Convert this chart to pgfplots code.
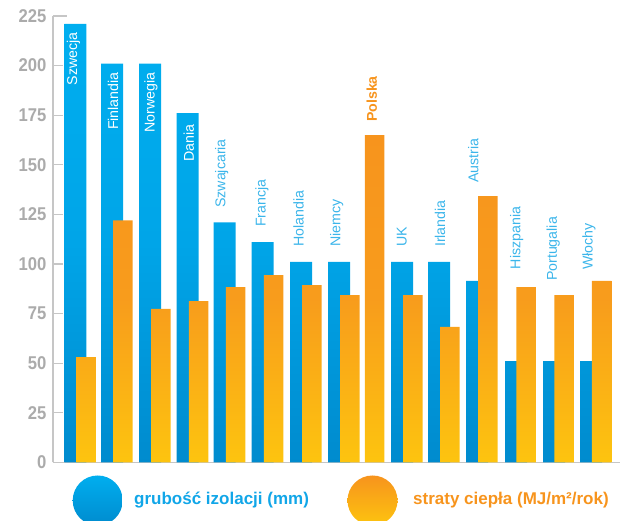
\documentclass[border=0pt]{standalone}
\usepackage{fontspec}
\setmainfont{Liberation Sans}
\newfontfamily\ticksfont[FakeStretch=0.9]{Liberation Sans}
\usepackage{pgfplots}
\usepackage{pgfplotstable}
\pgfplotsset{compat=1.18}
\definecolor{bluetop}{HTML}{00AEEF}
\definecolor{bluemid}{HTML}{00A5E8}
\definecolor{bluebot}{HTML}{008BCE}
\definecolor{orgtop}{HTML}{F7941D}
\definecolor{orgmid}{HTML}{F89C1C}
\definecolor{orgbot}{HTML}{FDC40F}
\definecolor{lblblue}{HTML}{3BB5EA}
\definecolor{axgray}{HTML}{C6C6C6}
\definecolor{tickgray}{HTML}{ABABAB}
\definecolor{legblue}{HTML}{11A6E8}

% blue: grubosc izolacji (mm); x = bar centre position
\pgfplotstableread{
x y
75.3 221
112 201
150 201
187.7 176
224.7 121
262.7 111
301 101
339 101
402 101
439 101
477 91.4
516 51
554 51
591 51
}\bluedata

% orange: straty ciepla (MJ/m2/rok)
\pgfplotstableread{
x y
86.1 53
122.8 122
160.8 77.3
198.5 81.3
235.5 88.3
273.5 94.4
311.8 89.3
349.8 84.3
374.5 165
412.8 84.3
449.8 68.3
487.8 134.2
526 88.3
564 84.3
601.5 91.4
}\orangedata

\begin{document}
\begin{tikzpicture}
\begin{axis}[
  scale only axis, width=567pt, height=446.3pt,
  xmin=53, xmax=620, ymin=0, ymax=225,
  axis x line*=bottom, axis y line*=left,
  axis line style={draw=axgray, line width=1.2pt},
  xtick=\empty,
  ytick={0,25,...,200},
  extra y ticks={225},
  extra y tick style={major tick length=14pt},
  tick align=inside,
  major tick length=10pt,
  tick style={draw=axgray, line width=1.2pt},
  /pgf/number format/assume math mode=true,
  yticklabel style={font=\ticksfont\bfseries\fontsize{18.5pt}{20pt}\selectfont, text=tickgray, xshift=-3pt},
  clip=false,
]
\addplot[ybar, bar width=22, bar shift=0pt, draw=none,
  top color=bluetop, bottom color=bluebot, middle color=bluemid] table[x=x,y=y]{\bluedata};
\addplot[ybar, bar width=19.5, bar shift=0pt, draw=none,
  top color=orgtop, bottom color=orgbot, middle color=orgmid] table[x=x,y=y]{\orangedata};

% country labels inside bars
\begin{scope}[every node/.style={rotate=90, inner sep=0pt, font=\fontsize{14.2pt}{16pt}\selectfont}]
\node[anchor=east, text=white] at (axis cs:73.5,216.9) {Szwecja};
\node[anchor=east, text=white] at (axis cs:113,196.7) {Finlandia};
\node[anchor=east, text=white] at (axis cs:151,196.7) {Norwegia};
\node[anchor=east, text=white] at (axis cs:188.7,170.5) {Dania};
\node[anchor=west, text=lblblue] at (axis cs:221.7,128.2) {Szwajcaria};
\node[anchor=west, text=lblblue] at (axis cs:262,118.6) {Francja};
\node[anchor=west, text=lblblue] at (axis cs:298.5,108.5) {Holandia};
\node[anchor=west, text=lblblue] at (axis cs:336.7,108.5) {Niemcy};
\node[anchor=west, text=orgtop, font=\bfseries\fontsize{14.2pt}{16pt}\selectfont] at (axis cs:371.7,171.5) {Polska};
\node[anchor=west, text=lblblue] at (axis cs:401.7,108.5) {UK};
\node[anchor=west, text=lblblue] at (axis cs:440,108.5) {Irlandia};
\node[anchor=west, text=lblblue] at (axis cs:473.3,140.8) {Austria};
\node[anchor=west, text=lblblue] at (axis cs:516.7,97.3) {Hiszpania};
\node[anchor=west, text=lblblue] at (axis cs:553.3,91.3) {Portugalia};
\node[anchor=west, text=lblblue] at (axis cs:589,96.9) {Włochy};
\end{scope}

% legend
\shade[top color=bluetop, bottom color=bluebot] (axis cs:97.7,-19.25) circle[radius=25pt];
\node[anchor=west, inner sep=0pt, text=legblue, font=\bfseries\fontsize{17pt}{20pt}\selectfont] at (axis cs:134,-19.0) {grubość izolacji (mm)};
\shade[top color=orgtop, bottom color=orgbot] (axis cs:372.5,-19.25) circle[radius=25pt];
\node[anchor=west, inner sep=0pt, text=orgtop, font=\bfseries\fontsize{17pt}{20pt}\selectfont] at (axis cs:413,-19.0) {straty ciepła (MJ/m²/rok)};
\end{axis}
\pgfresetboundingbox
\useasboundingbox (-53pt,-58.7pt) rectangle (567pt,462.3pt);
\end{tikzpicture}
\end{document}
